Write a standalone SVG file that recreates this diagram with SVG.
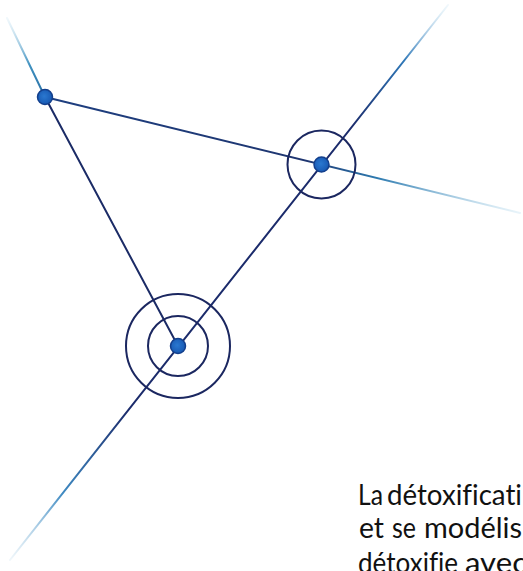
<svg xmlns="http://www.w3.org/2000/svg" width="523" height="571" viewBox="0 0 523 571">
  <defs>
    <linearGradient id="gCB" gradientUnits="userSpaceOnUse" x1="10" y1="560" x2="448" y2="5">
      <stop offset="0" stop-color="#9cc8e2" stop-opacity="0.15"/>
      <stop offset="0.12" stop-color="#3f8ac2"/>
      <stop offset="0.27" stop-color="#1b2b6b"/>
      <stop offset="0.78" stop-color="#1b2b6b"/>
      <stop offset="0.9" stop-color="#2f78b8"/>
      <stop offset="1" stop-color="#b5dbef" stop-opacity="0.2"/>
    </linearGradient>
    <linearGradient id="gAB" gradientUnits="userSpaceOnUse" x1="45" y1="97" x2="520" y2="213">
      <stop offset="0" stop-color="#1e3f80"/>
      <stop offset="0.55" stop-color="#1e3570"/>
      <stop offset="0.7" stop-color="#2e7bb0"/>
      <stop offset="1" stop-color="#a6d3ea" stop-opacity="0.25"/>
    </linearGradient>
    <linearGradient id="gA0" gradientUnits="userSpaceOnUse" x1="7" y1="18" x2="45" y2="97">
      <stop offset="0" stop-color="#b8dcef" stop-opacity="0.2"/>
      <stop offset="0.6" stop-color="#3e90bf"/>
      <stop offset="1" stop-color="#2a6fa5"/>
    </linearGradient>
    <radialGradient id="gDot" cx="0.45" cy="0.45" r="0.6">
      <stop offset="0" stop-color="#2a78d0"/>
      <stop offset="1" stop-color="#1656b0"/>
    </radialGradient>
    <style>
      .ln { fill: none; stroke-width: 2; stroke-linecap: round; }
      .ring { fill: none; stroke: #1b2760; stroke-width: 2; }
      .dot { fill: url(#gDot); stroke: #133f8c; stroke-width: 1.5; }
      .txt { font-family: "Lato", "Open Sans", "Liberation Sans", sans-serif; font-size: 28px; fill: #111111; font-variant-ligatures: none; }
    </style>
  </defs>

  <g id="connectors">
    <line class="ln" x1="7" y1="18" x2="45" y2="97" stroke="url(#gA0)"/>
    <line class="ln" x1="45" y1="97" x2="520" y2="213" stroke="url(#gAB)"/>
    <line class="ln" x1="45" y1="97" x2="178" y2="346" stroke="#1b2b66"/>
    <line class="ln" x1="10" y1="560" x2="448" y2="5" stroke="url(#gCB)"/>
  </g>

  <g id="node-A">
    <circle class="dot" cx="45" cy="97" r="7.5"/>
  </g>
  <g id="node-B">
    <circle class="ring" cx="321.5" cy="164.5" r="34"/>
    <circle class="dot" cx="321.5" cy="164.5" r="7.5"/>
  </g>
  <g id="node-C">
    <circle class="ring" cx="178" cy="346" r="30"/>
    <circle class="ring" cx="178" cy="346" r="52"/>
    <circle class="dot" cx="178" cy="346" r="7.5"/>
  </g>

  <g id="caption" class="txt">
    <text y="505"><tspan x="358" textLength="25" lengthAdjust="spacingAndGlyphs">La</tspan><tspan x="387" textLength="135" lengthAdjust="spacingAndGlyphs">détoxificati</tspan></text>
    <text y="538"><tspan x="359" textLength="25" lengthAdjust="spacingAndGlyphs">et</tspan><tspan x="392" textLength="24" lengthAdjust="spacingAndGlyphs">se</tspan><tspan x="424" textLength="98" lengthAdjust="spacingAndGlyphs">modélis</tspan></text>
    <text y="573"><tspan x="358" textLength="100" lengthAdjust="spacingAndGlyphs">détoxifie</tspan><tspan x="465" textLength="62" lengthAdjust="spacingAndGlyphs">avec</tspan></text>
  </g>
</svg>
